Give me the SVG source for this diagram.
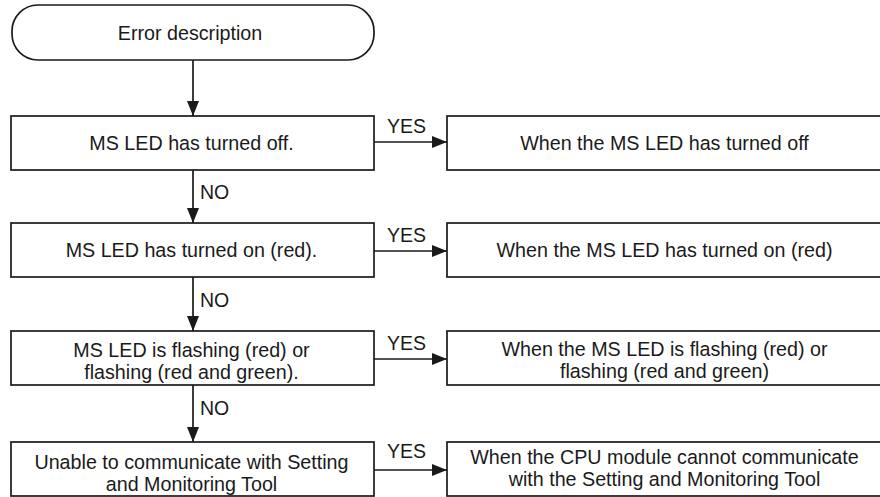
<svg xmlns="http://www.w3.org/2000/svg" width="880" height="497" viewBox="0 0 880 497">
<defs>
<marker id="ah" markerWidth="15" markerHeight="12" refX="15" refY="6" orient="auto" markerUnits="userSpaceOnUse">
<path d="M0,0 L15,6 L0,12 Z" fill="#1a1a1a"/>
</marker>
<style>
.box{fill:#fff;stroke:#1a1a1a;stroke-width:1.7}
.t{font-family:"Liberation Sans",Arial,sans-serif;font-size:19.7px;fill:#1a1a1a;text-anchor:middle}
.l{font-family:"Liberation Sans",Arial,sans-serif;font-size:19.5px;fill:#1a1a1a}
.c{stroke:#1a1a1a;stroke-width:1.7;fill:none;marker-end:url(#ah)}
</style>
</defs>
<rect width="880" height="497" fill="#fff"/>
<g id="start">
<rect class="box" x="12" y="5" width="362" height="55" rx="26" ry="26"/>
<text class="t" x="190" y="40">Error description</text>
</g>
<g id="q1">
<rect class="box" x="11" y="116" width="363" height="54"/>
<text class="t" x="191.5" y="150">MS LED has turned off.</text>
</g>
<g id="a1">
<rect class="box" x="447" y="116" width="436" height="54"/>
<text class="t" x="664.5" y="150">When the MS LED has turned off</text>
</g>
<g id="q2">
<rect class="box" x="11" y="223" width="363" height="54"/>
<text class="t" x="191.5" y="257">MS LED has turned on (red).</text>
</g>
<g id="a2">
<rect class="box" x="447" y="223" width="436" height="54"/>
<text class="t" x="664.5" y="257">When the MS LED has turned on (red)</text>
</g>
<g id="q3">
<rect class="box" x="11" y="331" width="363" height="54"/>
<text class="t" x="191.5" y="357">MS LED is flashing (red) or</text>
<text class="t" x="191.5" y="379">flashing (red and green).</text>
</g>
<g id="a3">
<rect class="box" x="447" y="331" width="436" height="54"/>
<text class="t" x="664.5" y="356">When the MS LED is flashing (red) or</text>
<text class="t" x="664.5" y="378">flashing (red and green)</text>
</g>
<g id="q4">
<rect class="box" x="11" y="442" width="363" height="54"/>
<text class="t" x="191.5" y="469">Unable to communicate with Setting</text>
<text class="t" x="191.5" y="491">and Monitoring Tool</text>
</g>
<g id="a4">
<rect class="box" x="447" y="442" width="436" height="54"/>
<text class="t" x="664.5" y="464">When the CPU module cannot communicate</text>
<text class="t" x="664.5" y="486">with the Setting and Monitoring Tool</text>
</g>
<g id="connectors">
<line class="c" x1="193" y1="60" x2="193" y2="116"/>
<line class="c" x1="193" y1="170" x2="193" y2="223"/>
<line class="c" x1="193" y1="277" x2="193" y2="331"/>
<line class="c" x1="193" y1="385" x2="193" y2="442"/>
<line class="c" x1="374" y1="142" x2="447" y2="142"/>
<line class="c" x1="374" y1="251" x2="447" y2="251"/>
<line class="c" x1="374" y1="359" x2="447" y2="359"/>
<line class="c" x1="374" y1="470" x2="447" y2="470"/>
<text class="l" x="200" y="199">NO</text>
<text class="l" x="200" y="307">NO</text>
<text class="l" x="200" y="415">NO</text>
<text class="l" x="387" y="133">YES</text>
<text class="l" x="387" y="242">YES</text>
<text class="l" x="387" y="350">YES</text>
<text class="l" x="387" y="458">YES</text>
</g>
</svg>
